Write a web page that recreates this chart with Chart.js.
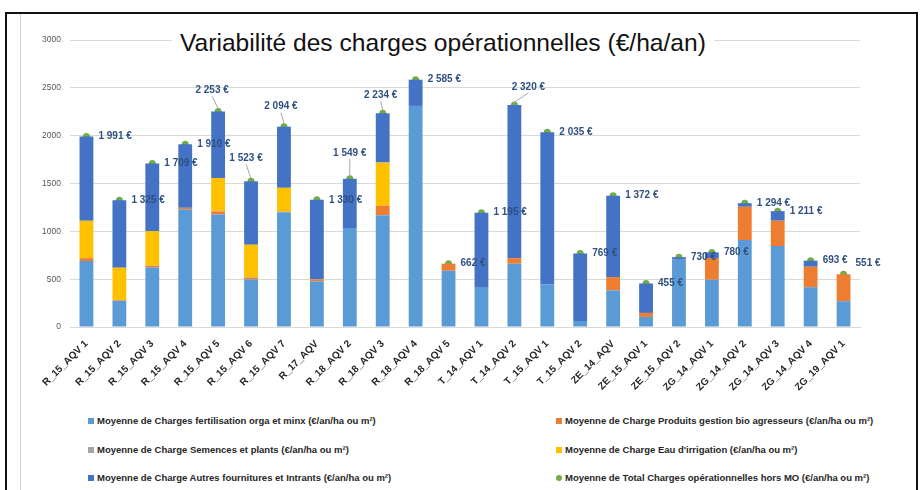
<!DOCTYPE html>
<html lang="fr">
<head>
<meta charset="utf-8">
<title>Variabilité des charges opérationnelles</title>
<script src="https://cdn.jsdelivr.net/npm/chart.js@4/dist/chart.umd.min.js"></script>
<style>
  html, body { margin: 0; padding: 0; background: #fff; }
  body { width: 922px; height: 490px; position: relative; overflow: hidden; font-family: "Liberation Sans", Arial, sans-serif; }
  #cadre { position: absolute; left: 5px; top: 12px; width: 913px; height: 480px; border: 2px solid #111; border-bottom: none; box-sizing: border-box; }
  #filet { position: absolute; left: 20px; top: 14px; width: 1px; height: 480px; background: #d0d0d0; }
  #zone { position: absolute; left: 0; top: 0; width: 922px; height: 410px; }
  #titre { position: absolute; left: 172px; top: 28px; padding: 0 8px; background: #fff; font-size: 24.6px; color: #111; white-space: nowrap; line-height: 30px; }
  #legende { position: absolute; left: 0; top: 410px; width: 922px; }
  .item { position: absolute; font-size: 9.5px; font-weight: bold; color: #262626; white-space: nowrap; line-height: 14px; }
  .item i { display: inline-block; width: 6px; height: 6px; margin-right: 3px; vertical-align: 0px; }
  .item i.rond { border-radius: 50%; }
</style>
</head>
<body>
<div id="cadre"></div>
<div id="filet"></div>
<div id="zone"><canvas id="graphique"></canvas></div>
<div id="titre">Variabilité des charges opérationnelles (€/ha/an)</div>
<div id="legende"></div>
<script>
// Parcelles (axe des x)
const parcelles = ['R_15_AQV 1', 'R_15_AQV 2', 'R_15_AQV 3', 'R_15_AQV 4', 'R_15_AQV 5', 'R_15_AQV 6', 'R_15_AQV 7', 'R_17_AQV',
    'R_18_AQV 2', 'R_18_AQV 3', 'R_18_AQV 4', 'R_18_AQV 5', 'T_14_AQV 1', 'T_14_AQV 2', 'T_15_AQV 1', 'T_15_AQV 2',
    'ZE_14_AQV', 'ZE_15_AQV 1', 'ZE_15_AQV 2', 'ZG_14_AQV 1', 'ZG_14_AQV 2', 'ZG_14_AQV 3', 'ZG_14_AQV 4', 'ZG_19_AQV 1'];

// Moyennes par poste de charge (€/an/ha ou m²)
const fertilisation = [690, 275, 623, 1232, 1176, 498, 1200, 477, 1034, 1169, 2311, 588, 418, 661, 445, 63, 383, 105, 707, 494, 909, 846, 416, 270];
const produitsBio = [30, 5, 17, 14, 32, 20, 5, 21, 0, 98, 0, 74, 0, 59, 0, 0, 139, 42, 0, 227, 348, 265, 214, 281];
const semences = [0, 0, 0, 0, 5, 0, 0, 0, 0, 0, 0, 0, 0, 0, 0, 0, 0, 0, 0, 0, 0, 0, 0, 0];
const eauIrrigation = [390, 340, 362, 0, 345, 342, 250, 0, 0, 452, 0, 0, 0, 0, 0, 0, 0, 0, 0, 0, 0, 0, 0, 0];
const autresFournitures = [881, 705, 707, 664, 695, 663, 639, 832, 515, 515, 274, 0, 777, 1600, 1590, 706, 850, 308, 23, 59, 37, 100, 63, 0];
const totalCharges = [1991, 1325, 1709, 1910, 2253, 1523, 2094, 1330, 1549, 2234, 2585, 662, 1195, 2320, 2035, 769, 1372, 455, 730, 780, 1294, 1211, 693, 551];

// Graduations de l'axe des y
const graduations = [0, 500, 1000, 1500, 2000, 2500, 3000];

const police = '"Liberation Sans", Arial, sans-serif';

// Etiquettes placées au-dessus du point (décalage du centre du texte)
const etiquettesDessus = { 4: [-6, -21], 5: [-5, -23], 6: [-3, -20], 8: [0, -26], 9: [-2, -18], 13: [14, -18] };

// Plugin pour écrire les totaux à côté des points verts
const etiquettesTotal = {
    id: 'etiquettesTotal',
    afterDatasetsDraw(chart) {
        const ctx = chart.ctx;
        const meta = chart.getDatasetMeta(5);
        ctx.save();
        ctx.font = 'bold 10px ' + police;
        ctx.fillStyle = '#2F5080';
        ctx.textBaseline = 'middle';
        meta.data.forEach(function(pt, i) {
            const texte = totalCharges[i].toLocaleString('fr-FR').replace(/\s/g, ' ') + ' €';
            const dessus = etiquettesDessus[i];
            if (dessus) {
                const cx = pt.x + dessus[0], cy = pt.y + dessus[1];
                ctx.strokeStyle = '#a6a6a6';
                ctx.lineWidth = 1;
                ctx.beginPath();
                ctx.moveTo(cx, cy + 6);
                ctx.lineTo(pt.x, pt.y - 3);
                ctx.stroke();
                ctx.textAlign = 'center';
                ctx.fillText(texte, cx, cy);
            } else {
                ctx.textAlign = 'left';
                const dy = i === 23 ? -11 : 0;
                ctx.fillText(texte, pt.x + 12, pt.y + dy);
            }
        });
        ctx.restore();
    }
};

const graphique = new Chart(document.getElementById('graphique'), {
    type: 'bar',
    data: {
        labels: parcelles,
        datasets: [
            { label: 'Moyenne de Charges fertilisation orga et minx (€/an/ha ou m²)', data: fertilisation, backgroundColor: '#5B9BD5' },
            { label: 'Moyenne de Charge Produits gestion bio agresseurs (€/an/ha ou m²)', data: produitsBio, backgroundColor: '#ED7D31' },
            { label: 'Moyenne de Charge Semences et plants (€/an/ha ou m²)', data: semences, backgroundColor: '#A5A5A5' },
            { label: 'Moyenne de Charge Eau d\'irrigation (€/an/ha ou m²)', data: eauIrrigation, backgroundColor: '#FFC000' },
            { label: 'Moyenne de Charge Autres fournitures et Intrants (€/an/ha ou m²)', data: autresFournitures, backgroundColor: '#4472C4' },
            {
                type: 'line', label: 'Moyenne de Total Charges opérationnelles hors MO (€/an/ha ou m²)', data: totalCharges,
                stack: 'total', showLine: false, pointRadius: 3.5, pointBackgroundColor: '#70AD47',
                pointBorderWidth: 0, backgroundColor: '#70AD47', borderColor: '#70AD47'
            }
        ]
    },
    options: {
        responsive: true,
        maintainAspectRatio: false,
        animation: false,
        datasets: { bar: { barPercentage: 0.42, categoryPercentage: 1, stack: 'charges' } },
        layout: { padding: { top: 40, right: 62, left: 0, bottom: 0 } },
        plugins: { legend: { display: false }, title: { display: false }, tooltip: { enabled: false } },
        scales: {
            x: {
                stacked: true,
                grid: { display: false },
                border: { display: true, color: '#d9d9d9' },
                ticks: { minRotation: 45, maxRotation: 45, color: '#262626', padding: 3, font: { family: police, size: 10, weight: 'bold' } },
                afterFit(scale) { scale.height = 83; }
            },
            y: {
                stacked: true,
                min: 0, max: 3000,
                afterBuildTicks(scale) { scale.ticks = graduations.map(v => ({ value: v })); },
                grid: { color: '#d9d9d9', drawTicks: false },
                border: { display: false },
                ticks: { color: '#595959', padding: 9, font: { family: police, size: 8.5 }, callback: v => String(v) },
                afterFit(scale) { scale.width = 70; }
            }
        }
    },
    plugins: [etiquettesTotal]
});

// Légende en deux colonnes, construite à partir des séries
const positions = [[88, 414], [556, 414], [88, 443], [556, 443], [88, 471], [556, 471]];
const legende = document.getElementById('legende');
graphique.data.datasets.forEach(function(ds, i) {
    const el = document.createElement('div');
    el.className = 'item';
    el.style.left = positions[i][0] + 'px';
    el.style.top = (positions[i][1] - 410) + 'px';
    const marque = document.createElement('i');
    marque.style.background = ds.type === 'line' ? ds.pointBackgroundColor : ds.backgroundColor;
    if (ds.type === 'line') marque.className = 'rond';
    el.appendChild(marque);
    el.appendChild(document.createTextNode(ds.label));
    legende.appendChild(el);
});
</script>
</body>
</html>
